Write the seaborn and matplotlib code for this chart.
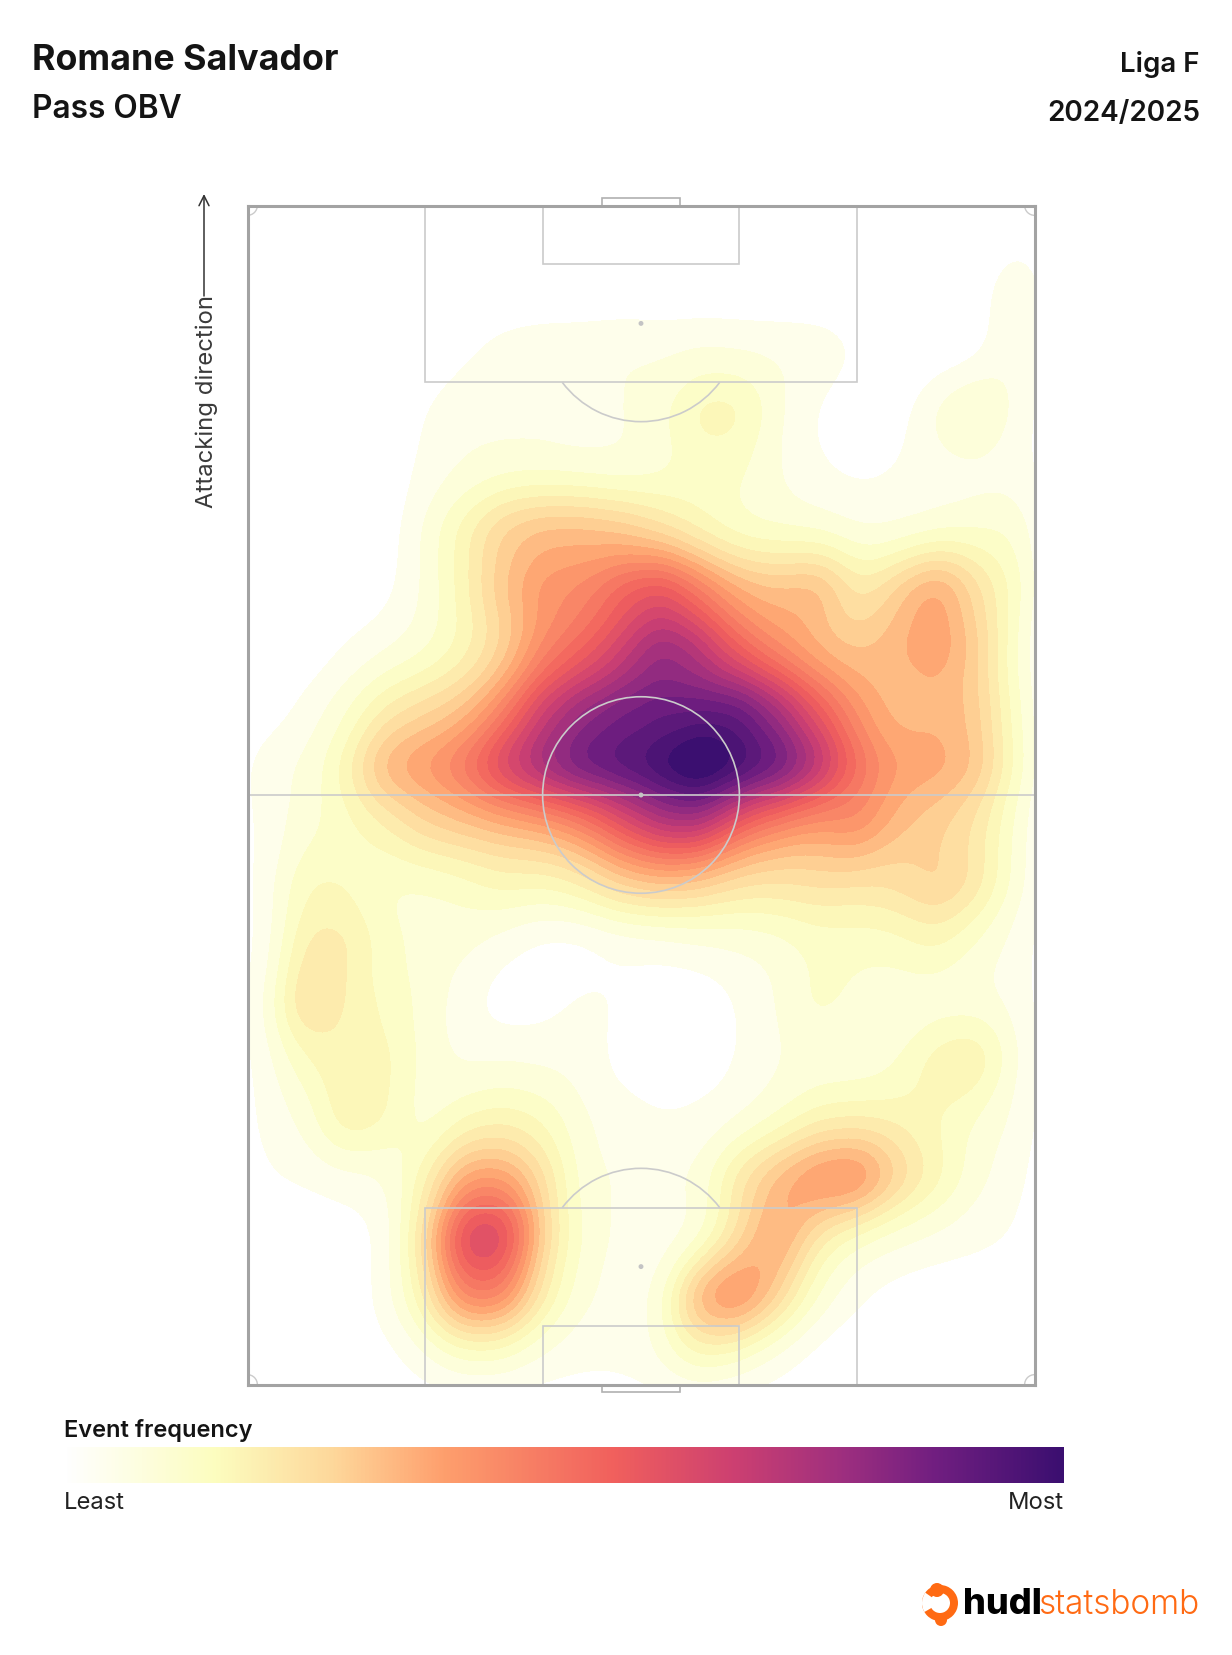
import matplotlib
matplotlib.use('Agg')
import matplotlib.pyplot as plt
from matplotlib.colors import LinearSegmentedColormap, ListedColormap
from matplotlib.patches import Arc, Circle, Rectangle, Wedge
import numpy as np
import seaborn as sns

# pass density, per zone of the pitch (statsbomb units, 80 x 120)
zone_x = [2, 6, 10, 14, 18, 22, 26, 30, 34, 38, 42, 46, 50, 54, 58, 62, 66, 70, 74, 78]
zone_y = [117, 111, 105, 99, 93, 87, 81, 75, 69, 63, 57, 51, 45, 39, 33, 27, 21, 15, 9, 3]
zone_passes = [
    [0, 0, 0, 0, 0, 0, 0, 0, 0, 0, 0, 0, 0, 0, 0, 0, 0, 0, 0, 2],
    [0, 0, 0, 0, 0, 0, 0, 0, 0, 0, 0, 0, 0, 0, 0, 0, 0, 0, 0, 8],
    [0, 0, 0, 0, 0, 2, 5, 6, 6, 7, 6, 7, 6, 6, 6, 3, 0, 0, 0, 7],
    [0, 0, 0, 0, 3, 6, 5, 5, 4, 6, 8, 16, 16, 6, 2, 0, 0, 8, 14, 5],
    [0, 0, 0, 0, 4, 6, 7, 7, 6, 5, 7, 10, 10, 6, 3, 2, 3, 4, 4, 5],
    [0, 0, 0, 0, 7, 15, 25, 28, 28, 25, 18, 12, 8, 8, 7, 5, 5, 6, 8, 10],
    [0, 0, 0, 1, 6, 14, 26, 35, 35, 45, 52, 38, 28, 26, 32, 15, 24, 36, 20, 12],
    [0, 0, 3, 5, 7, 12, 20, 35, 42, 52, 68, 60, 42, 32, 25, 24, 28, 34, 25, 8],
    [0, 4, 8, 16, 20, 24, 35, 55, 65, 70, 72, 72, 76, 62, 45, 32, 24, 28, 25, 10],
    [6, 6, 14, 32, 35, 42, 58, 68, 78, 80, 84, 95, 84, 80, 65, 42, 32, 32, 28, 12],
    [4, 8, 10, 14, 22, 24, 26, 28, 34, 48, 60, 62, 42, 34, 30, 38, 26, 22, 18, 8],
    [4, 14, 12, 8, 8, 10, 14, 12, 15, 22, 24, 22, 18, 18, 20, 18, 20, 26, 20, 8],
    [3, 18, 18, 10, 8, 7, 4, 1, 0, 2, 3, 5, 6, 7, 10, 10, 10, 14, 8, 5],
    [5, 26, 14, 12, 8, 4, 0, 1, 4, 3, 0, 0, 3, 6, 12, 8, 7, 6, 6, 5],
    [4, 12, 17, 14, 8, 5, 6, 5, 5, 1, 0, 0, 3, 6, 6, 6, 8, 16, 20, 6],
    [4, 6, 18, 14, 6, 12, 14, 12, 6, 5, 3, 4, 5, 8, 14, 14, 14, 12, 8, 6],
    [3, 3, 4, 5, 14, 32, 32, 20, 6, 6, 6, 6, 20, 28, 38, 42, 24, 15, 7, 4],
    [0, 0, 1, 2, 18, 60, 60, 20, 8, 5, 4, 4, 18, 36, 14, 8, 6, 5, 4, 3],
    [0, 0, 0, 4, 14, 40, 40, 16, 6, 5, 4, 36, 42, 22, 8, 3, 1, 0, 0, 0],
    [0, 0, 0, 1, 4, 8, 8, 5, 4, 4, 6, 12, 8, 4, 1, 0, 0, 0, 0, 0],
]

player = 'Romane Salvador'
metric = 'Pass OBV'
league = 'Liga F'
season = '2024/2025'

BW = 0.14
N_BANDS = 26
FIRST_BAND = 0.035

heat_stops = [(0, '#ffffff'), (0.15, '#fcfdbf'), (0.27, '#fed79a'), (0.38, '#fe9f6d'), (0.55, '#f1605d'),
              (0.67, '#cd4071'), (0.78, '#9e2f7f'), (0.87, '#721f81'), (1, '#3b0f70')]
heat_cmap = LinearSegmentedColormap.from_list('heat', heat_stops)
band_cmap = ListedColormap(heat_cmap(np.linspace(0.05, 1, N_BANDS - 1)))

font = 'Inter'
W, H = 1232, 1656


def iso_proportions(x, y, w):
    # seaborn wants levels as mass proportions, so work out the ones that are even steps in density
    cov = np.cov(np.vstack([x, y]), aweights=w, bias=False) * BW ** 2
    inv = np.linalg.inv(cov)
    gx, gy = np.meshgrid(np.linspace(0, 80, 200), np.linspace(0, 120, 200))
    d = np.zeros(gx.shape)
    for px, py, pw in zip(x, y, w):
        dx, dy = gx - px, gy - py
        d += pw * np.exp(-0.5 * (inv[0, 0] * dx * dx + 2 * inv[0, 1] * dx * dy + inv[1, 1] * dy * dy))
    vals = np.sort(d.ravel())[::-1]
    mass = np.cumsum(vals) / vals.sum()
    steps = np.linspace(FIRST_BAND, 1, N_BANDS) * vals[0]
    props = [1 - mass[np.searchsorted(-vals, -s, side='right') - 1] for s in steps[:-1]]
    return sorted(set(props + [1.0]))


def px_axes(left, top, right, bottom):
    return fig.add_axes([left / W, 1 - bottom / H, (right - left) / W, (bottom - top) / H])


def draw_half(ax, goal_y, sign):
    # everything on one half of the pitch, sign is the direction towards the middle
    inner = dict(fill=False, ec='#cbcbcb', lw=1.2, zorder=5)
    ax.add_patch(Rectangle((18, goal_y), 44, sign * 18, **inner))
    ax.add_patch(Rectangle((30, goal_y), 20, sign * 6, **inner))
    ax.add_patch(Rectangle((36, goal_y), 8, -sign * 0.8, fill=False, ec='#b0b0b0', lw=1.2, clip_on=False, zorder=5))
    spot_y = goal_y + sign * 12
    ax.add_patch(Circle((40, spot_y), 0.25, fc='#c4c4c4', ec='none', zorder=5))
    t1, t2 = (36.87, 143.13) if sign > 0 else (216.87, 323.13)
    ax.add_patch(Arc((40, spot_y), 20, 20, theta1=t1, theta2=t2, ec='#cbcbcb', lw=1.2, zorder=5))


gx, gy = np.meshgrid(zone_x, zone_y)
pass_x = gx.ravel().astype(float)
pass_y = gy.ravel().astype(float)
pass_w = np.array(zone_passes, dtype=float).ravel()
keep = pass_w > 0
pass_x, pass_y, pass_w = pass_x[keep], pass_y[keep], pass_w[keep]

sns.set_theme(style='white')
plt.rcParams['font.family'] = [font, 'DejaVu Sans']

fig = plt.figure(figsize=(W / 100, H / 100), dpi=100, facecolor='white')

ax = px_axes(247.5, 206.5, 1034.5, 1385.5)
sns.kdeplot(x=pass_x, y=pass_y, weights=pass_w, fill=True, cmap=band_cmap, levels=iso_proportions(pass_x, pass_y, pass_w),
            bw_method=BW, gridsize=200, cut=20, clip=((0, 80), (0, 120)), ax=ax, zorder=1)
ax.set_xlim(0, 80)
ax.set_ylim(0, 120)
ax.set_xlabel('')
ax.set_ylabel('')
ax.set_xticks([])
ax.set_yticks([])
for s in ax.spines.values():
    s.set_color('#a3a3a3')
    s.set_linewidth(2.2)
    s.set_zorder(6)

# pitch markings
draw_half(ax, 0, 1)
draw_half(ax, 120, -1)
ax.plot([0, 80], [60, 60], color='#cbcbcb', lw=1.2, zorder=5)
ax.add_patch(Circle((40, 60), 10, fill=False, ec='#cbcbcb', lw=1.2, zorder=5))
ax.add_patch(Circle((40, 60), 0.25, fc='#c4c4c4', ec='none', zorder=5))
for cx, cy, t1 in [(0, 0, 0), (80, 0, 90), (80, 120, 180), (0, 120, 270)]:
    ax.add_patch(Arc((cx, cy), 2, 2, theta1=t1, theta2=t1 + 90, ec='#cbcbcb', lw=1.0, zorder=5))

# headers
fig.text(32 / W, 1 - 60 / H, player, fontsize=25.8, fontweight=700, color='#141414', va='center')
fig.text(32 / W, 1 - 109 / H, metric, fontsize=22.8, fontweight=600, color='#141414', va='center')
fig.text(1200 / W, 1 - 65 / H, league, fontsize=19.9, fontweight=600, color='#141414', va='center', ha='right')
fig.text(1200 / W, 1 - 113 / H, season, fontsize=20.1, fontweight=600, color='#141414', va='center', ha='right')

# attacking direction
fig.text(207 / W, 1 - 401 / H, 'Attacking direction', fontsize=17.2, rotation=90, color='#3a3a3a', va='center', ha='center')
fig.add_artist(plt.Annotation('', xy=(204 / W, 1 - 195 / H), xytext=(204 / W, 1 - 297 / H), xycoords='figure fraction',
                              textcoords='figure fraction',
                              arrowprops=dict(arrowstyle='->,head_width=0.3,head_length=0.6', color='#333333', lw=1.1,
                                              shrinkA=0, shrinkB=0)))

# colour scale
cax = px_axes(64, 1448, 1064, 1484)
cax.imshow(np.linspace(0, 1, 512)[None, :], aspect='auto', cmap=heat_cmap)
cax.axis('off')
fig.text(64 / W, 1 - 1431 / H, 'Event frequency', fontsize=17, fontweight=600, color='#141414', va='center')
fig.text(64 / W, 1 - 1503 / H, 'Least', fontsize=17.1, color='#222222', va='center')
fig.text(1064 / W, 1 - 1503 / H, 'Most', fontsize=17.1, color='#222222', va='center', ha='right')

# logo
lax = px_axes(921, 1582, 961, 1628)
lax.set_xlim(0, 40)
lax.set_ylim(46, 0)
lax.axis('off')
lax.add_patch(Wedge((19, 22), 18, 0, 360, width=8, fc='#ff6a13', ec='none'))
lax.add_patch(Wedge((19, 22), 18, 150, 215, width=18, fc='white', ec='none'))
lax.add_patch(Circle((16, 9), 7, fc='#ff6a13', ec='none'))
lax.add_patch(Circle((20, 39), 6, fc='#ff6a13', ec='none'))
fig.text(963 / W, 1 - 1605 / H, 'hudl', fontsize=26, fontweight=800, color='black', va='center')
fig.text(1199 / W, 1 - 1605 / H, 'statsbomb', fontsize=24, fontweight=300, color='#ff6a13', va='center', ha='right')

fig.savefig('out.png', dpi=100)
